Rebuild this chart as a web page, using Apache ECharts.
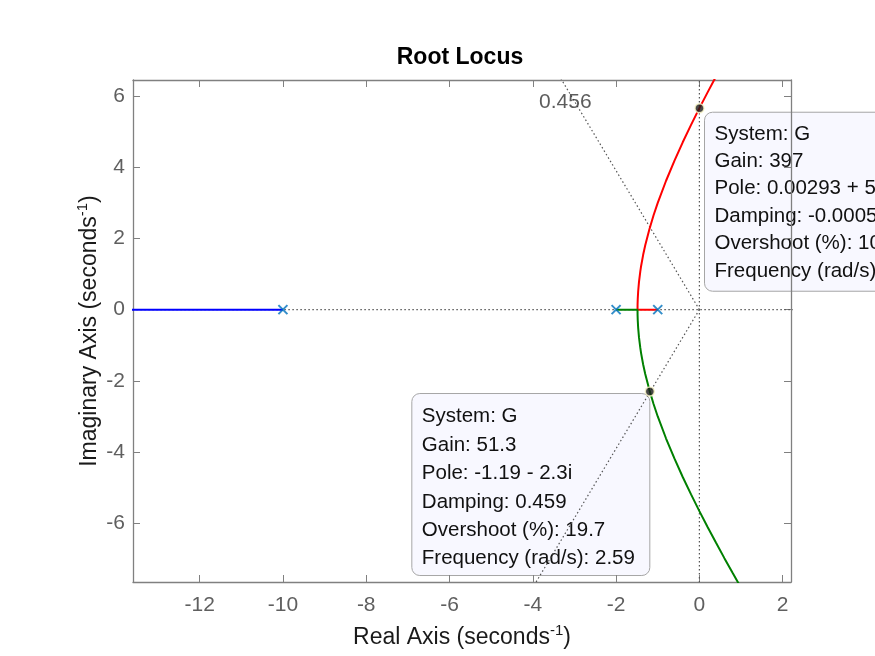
<!DOCTYPE html>
<html>
<head>
<meta charset="utf-8">
<script src="https://cdn.jsdelivr.net/npm/echarts@6/dist/echarts.min.js"></script>
<style>html,body{margin:0;padding:0;background:#fff;}#c{width:875px;height:656px;}</style>
</head>
<body>
<div id="c"></div>
<script>
// ---- data ----
const xRange = [-13.6, 2.2];
const yRange = [-7.65, 6.45];
const xTicks = [-12, -10, -8, -6, -4, -2, 0, 2];
const yTicks = [-6, -4, -2, 0, 2, 4, 6];
const poles = [[-10, 0], [-2, 0], [-1, 0]];
// upper complex branch (starts at pole -1)
const redBranch = [[-1, 0], [-1.4853, 0], [-1.484, 0.15], [-1.48, 0.30], [-1.47, 0.51], [-1.45, 0.78],
  [-1.42, 1.06], [-1.40, 1.22], [-1.35, 1.54], [-1.30, 1.81], [-1.20, 2.26], [-1.10, 2.65],
  [-1.00, 3.00], [-0.80, 3.62], [-0.60, 4.18], [-0.40, 4.70], [-0.20, 5.19], [0.00, 5.66],
  [0.20, 6.11], [0.40, 6.55], [0.60, 6.98], [0.80, 7.40], [1.00, 7.81], [1.20, 8.22]];
// lower complex branch (starts at pole -2)
const greenBranch = [[-2, 0], [-1.4853, 0], [-1.484, -0.15], [-1.48, -0.30], [-1.47, -0.51], [-1.45, -0.78],
  [-1.42, -1.06], [-1.40, -1.22], [-1.35, -1.54], [-1.30, -1.81], [-1.20, -2.26], [-1.10, -2.65],
  [-1.00, -3.00], [-0.80, -3.62], [-0.60, -4.18], [-0.40, -4.70], [-0.20, -5.19], [0.00, -5.66],
  [0.20, -6.11], [0.40, -6.55], [0.60, -6.98], [0.80, -7.40], [1.00, -7.81], [1.20, -8.22]];
// real branch (starts at pole -10)
const blueBranch = [[-10, 0], [-14, 0]];
// s-grid lines
const gridRealLine = [[-14, 0], [3, 0]];
const gridImagLine = [[0, -8], [0, 7]];
const zetaValue = 0.456;
const zetaUpper = [[0, 0], [-4.1, 8]];
const zetaLower = [[0, 0], [-4.1, -8]];
const zetaLabelPos = [-3.22, 5.83];
// data tips
const tipUpper = { point: [0.00293, 5.657], lines: ['System: G', 'Gain: 397', 'Pole: 0.00293 + 5.66i', 'Damping: -0.000518', 'Overshoot (%): 100', 'Frequency (rad/s): 5.66'] };
const tipLower = { point: [-1.19, -2.3], lines: ['System: G', 'Gain: 51.3', 'Pole: -1.19 - 2.3i', 'Damping: 0.459', 'Overshoot (%): 19.7', 'Frequency (rad/s): 2.59'] };

// ---- chart ----
const FONT = "'Liberation Sans', Arial, Helvetica, sans-serif";
const axisColor = '#808080';
const labelColor = '#5f5f5f';
const chart = echarts.init(document.getElementById('c'), null, { renderer: 'canvas' });

function axisBase(extra) {
  return Object.assign({
    type: 'value',
    axisLine: { show: true, onZero: false, lineStyle: { color: axisColor, width: 1.3 } },
    splitLine: { show: false },
  }, extra);
}

const dotted = { color: '#555', width: 1.2, type: [1.5, 2.5] };

const option = {
  animation: false,
  textStyle: { fontFamily: FONT },
  title: {
    text: 'Root Locus', left: 455, textAlign: 'center', top: 41,
    textStyle: { fontFamily: FONT, fontSize: 23, fontWeight: 'bold', color: '#000' }
  },
  grid: { left: 133, right: 84, top: 80, bottom: 74 },
  xAxis: [
    axisBase({
      min: xRange[0], max: xRange[1], position: 'bottom',
      axisTick: { show: true, inside: true, length: 7, customValues: xTicks, lineStyle: { color: axisColor } },
      axisLabel: { customValues: xTicks, color: labelColor, fontSize: 21, fontFamily: FONT, margin: 13 },
      name: 'Real Axis (seconds{sup|-1})', nameLocation: 'middle', nameGap: 41,
      nameTextStyle: { fontFamily: FONT, fontSize: 23, color: '#1a1a1a',
        rich: { sup: { fontFamily: FONT, fontSize: 15, color: '#1a1a1a', padding: [0, 0, 14, 0] } } }
    }),
    axisBase({
      min: xRange[0], max: xRange[1], position: 'top',
      axisTick: { show: true, inside: true, length: 7, customValues: xTicks, lineStyle: { color: axisColor } },
      axisLabel: { show: false }
    })
  ],
  yAxis: [
    axisBase({
      min: yRange[0], max: yRange[1], position: 'left',
      axisTick: { show: true, inside: true, length: 7, customValues: yTicks, lineStyle: { color: axisColor } },
      axisLabel: { customValues: yTicks, color: labelColor, fontSize: 21, fontFamily: FONT, margin: 8 },
      name: 'Imaginary Axis (seconds{sup|-1})', nameLocation: 'middle', nameGap: 29, nameRotate: 90,
      nameMoveOverlap: false,
      nameTextStyle: { fontFamily: FONT, fontSize: 23, color: '#1a1a1a',
        rich: { sup: { fontFamily: FONT, fontSize: 15, color: '#1a1a1a', padding: [0, 0, 14, 0] } } }
    }),
    axisBase({
      min: yRange[0], max: yRange[1], position: 'right',
      axisTick: { show: true, inside: true, length: 7, customValues: yTicks, lineStyle: { color: axisColor } },
      axisLabel: { show: false }
    })
  ],
  series: [
    { type: 'line', data: gridRealLine, symbol: 'none', lineStyle: dotted, z: 1, silent: true },
    { type: 'line', data: gridImagLine, symbol: 'none', lineStyle: dotted, z: 1, silent: true },
    { type: 'line', data: zetaUpper, symbol: 'none', lineStyle: dotted, z: 1, silent: true },
    { type: 'line', data: zetaLower, symbol: 'none', lineStyle: dotted, z: 1, silent: true },
    { type: 'scatter', data: [zetaLabelPos], symbolSize: 0, z: 3, silent: true,
      label: { show: true, position: 'inside', formatter: String(zetaValue), fontFamily: FONT, fontSize: 21, color: '#333' } },
    { type: 'line', data: blueBranch, symbol: 'none', lineStyle: { color: '#0000ff', width: 2 }, z: 4 },
    { type: 'line', data: redBranch, symbol: 'none', lineStyle: { color: '#ff0000', width: 2 }, z: 4 },
    { type: 'line', data: greenBranch, symbol: 'none', lineStyle: { color: '#008000', width: 2 }, z: 4 },
    { type: 'scatter', data: poles, symbol: 'path://M0,0L10,10M10,0L0,10', symbolSize: 9, z: 5,
      itemStyle: { color: 'none', borderColor: '#0072BD', borderWidth: 2 } },
    { type: 'scatter', data: [tipUpper.point, tipLower.point], symbol: 'circle', symbolSize: 9, z: 6,
      itemStyle: { color: '#1a1a1a', borderColor: '#fbf7c8', borderWidth: 1.5 } }
  ]
};
chart.setOption(option);

function tipGraphic(tip, mode) {
  const p = chart.convertToPixel({ xAxisIndex: 0, yAxisIndex: 0 }, tip.point);
  const w = mode === 'right' ? 260 : 238;
  const h = mode === 'right' ? 179 : 182;
  const x = mode === 'right' ? p[0] + 5 : p[0] - w;
  const y = mode === 'right' ? p[1] + 4 : p[1] + 2;
  const lh = mode === 'right' ? 27.4 : 28.4;
  const dy = mode === 'right' ? 8 : 9;
  return {
    type: 'group', z: 100,
    children: [
      { type: 'rect', shape: { x: x, y: y, width: w, height: h, r: 8 },
        style: { fill: '#f8f8ff', stroke: '#a6a6a6', lineWidth: 1 } },
      { type: 'text', x: x + 10, y: y + dy,
        style: { text: tip.lines.join('\n'), font: '20.5px ' + FONT, fill: '#111', lineHeight: lh } }
    ]
  };
}
chart.setOption({ graphic: [tipGraphic(tipUpper, 'right'), tipGraphic(tipLower, 'left')] });
</script>
</body>
</html>
